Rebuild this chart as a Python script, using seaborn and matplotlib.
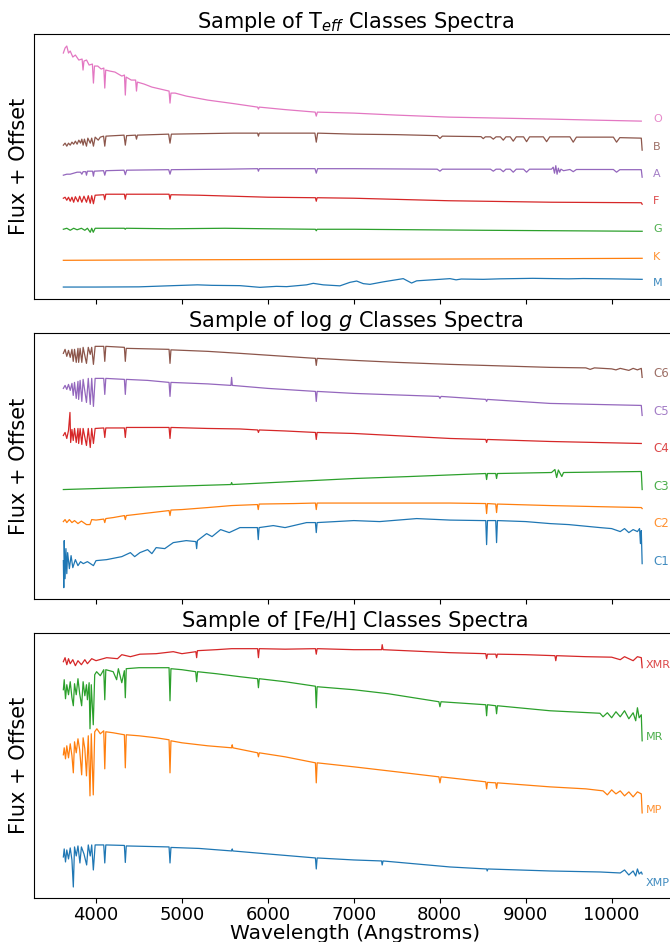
import matplotlib
matplotlib.use("Agg")
import matplotlib.pyplot as plt
import seaborn as sns
from matplotlib.ticker import MultipleLocator

# ---- spectra: (wavelength in Angstrom, flux + offset) ----

# Teff panel
teff_M = [(3620, 1.23), (4000, 1.23), (4500, 1.25), (4900, 1.37), (5180, 1.45), (5350, 1.4),
          (5675, 1.37), (5907, 1.2), (6100, 1.3), (6218, 1.27), (6450, 1.45), (6528, 1.6),
          (6644, 1.45), (6838, 1.35), (6955, 1.7), (7033, 1.83), (7110, 1.57), (7188, 1.5),
          (7343, 1.75), (7575, 2.07), (7672, 1.63), (7731, 1.85), (8000, 2.0), (8119, 2.07),
          (8190, 1.95), (8250, 2.03), (8506, 2.0), (8700, 2.05), (9082, 2.1), (9500, 2.05),
          (9670, 2.08), (10000, 2.05), (10355, 2.0)]
teff_K = [(3620, 3.9), (5000, 3.95), (7000, 4.0), (9000, 4.05), (10355, 4.1)]
teff_G = [(3620, 7.0), (3660, 7.1), (3700, 6.9), (3740, 7.1), (3780, 6.95), (3830, 7.1),
          (3870, 6.9), (3900, 7.1), (3933, 6.7), (3950, 7.1), (3968, 6.7), (3990, 7.1),
          (4200, 7.1), (4330, 7.1), (4340, 7.0), (4350, 7.1), (4861, 7.05), (5500, 7.1),
          (6000, 7.05), (6553, 7.0), (6563, 6.85), (6573, 7.0), (7000, 7.0), (8500, 6.9),
          (10355, 6.8)]
teff_F = [(3620, 10.1), (3640, 10.2), (3660, 9.9), (3680, 10.2), (3700, 9.8), (3720, 10.2),
          (3740, 9.7), (3760, 10.25), (3790, 9.75), (3810, 10.3), (3835, 9.7), (3860, 10.3),
          (3889, 9.7), (3910, 10.35), (3933, 9.6), (3950, 10.35), (3970, 9.55), (3990, 10.4),
          (4090, 10.45), (4102, 9.95), (4114, 10.5), (4330, 10.5), (4341, 10.0), (4352, 10.5),
          (4850, 10.5), (4861, 10.0), (4872, 10.45), (5200, 10.4), (5600, 10.3), (6000, 10.2),
          (6553, 10.15), (6563, 9.8), (6573, 10.15), (7000, 10.1), (8100, 9.85), (9300, 9.7),
          (10345, 9.65), (10355, 9.5)]
teff_A = [(3620, 12.4), (3660, 12.5), (3700, 12.5), (3740, 12.6), (3780, 12.7), (3820, 12.7),
          (3835, 12.5), (3850, 12.75), (3880, 12.75), (3889, 12.4), (3900, 12.8), (3960, 12.8),
          (3970, 12.3), (3980, 12.8), (4088, 12.85), (4102, 12.4), (4116, 12.85), (4326, 12.9),
          (4341, 12.45), (4356, 12.9), (4846, 12.95), (4861, 12.5), (4876, 12.95), (5500, 13.0),
          (5880, 13.05), (5890, 12.8), (5900, 13.05), (6548, 13.05), (6563, 12.6), (6578, 13.05),
          (7000, 13.05), (7970, 13.0), (8002, 12.8), (8030, 13.0), (8590, 13.0), (8623, 12.8),
          (8655, 13.0), (8705, 13.0), (8739, 12.75), (8770, 13.0), (8820, 13.0), (8855, 12.7),
          (8890, 13.0), (8975, 13.0), (9010, 12.7), (9045, 13.0), (9300, 13.0), (9320, 13.2),
          (9335, 12.6), (9350, 13.35), (9365, 12.5), (9380, 13.1), (9395, 12.7), (9410, 13.0),
          (9440, 12.85), (9515, 12.97), (9553, 12.75), (9590, 12.97), (10020, 12.97),
          (10057, 12.7), (10095, 12.95), (10345, 12.95), (10355, 12.2)]
teff_B = [(3620, 15.4), (3640, 15.6), (3660, 15.3), (3680, 15.6), (3700, 15.4), (3720, 15.7),
          (3740, 15.5), (3760, 15.8), (3780, 15.5), (3800, 15.9), (3820, 15.6), (3835, 16.0),
          (3850, 15.4), (3865, 16.0), (3889, 15.3), (3905, 16.1), (3933, 15.6), (3950, 16.1),
          (3970, 15.3), (3990, 16.2), (4026, 15.9), (4050, 16.2), (4088, 16.3), (4102, 15.3),
          (4116, 16.3), (4326, 16.4), (4341, 15.4), (4356, 16.35), (4460, 16.4), (4471, 16.0),
          (4482, 16.4), (4845, 16.5), (4861, 15.6), (4877, 16.5), (5600, 16.6), (5880, 16.6),
          (5890, 16.3), (5900, 16.6), (6547, 16.6), (6563, 15.7), (6579, 16.6), (7000, 16.5),
          (7500, 16.45), (7970, 16.35), (8002, 16.07), (8030, 16.3), (8480, 16.25),
          (8506, 16.05), (8530, 16.23), (8590, 16.23), (8623, 16.0), (8655, 16.23),
          (8705, 16.23), (8739, 15.9), (8770, 16.23), (8820, 16.23), (8855, 15.8), (8890, 16.23),
          (8975, 16.23), (9010, 15.75), (9045, 16.23), (9205, 16.23), (9243, 15.75),
          (9280, 16.23), (9515, 16.23), (9553, 15.7), (9590, 16.2), (10020, 16.2),
          (10057, 15.7), (10095, 16.15), (10345, 16.1), (10355, 14.9)]
teff_O = [(3620, 24.6), (3640, 25.1), (3660, 25.3), (3680, 24.6), (3700, 24.8), (3730, 24.2),
          (3760, 24.4), (3800, 23.9), (3838, 24.0), (3849, 22.9), (3860, 23.8), (3890, 23.9),
          (3920, 23.4), (3958, 23.5), (3970, 21.6), (3982, 23.3), (4020, 23.3), (4060, 23.0),
          (4091, 23.1), (4102, 21.1), (4113, 22.9), (4160, 22.8), (4220, 22.7), (4300, 22.3),
          (4331, 22.4), (4341, 20.4), (4351, 22.2), (4410, 21.9), (4461, 21.9), (4471, 20.8),
          (4481, 21.7), (4560, 21.5), (4650, 21.2), (4750, 21.0), (4850, 20.8), (4861, 19.6),
          (4872, 20.6), (4920, 20.6), (5050, 20.3), (5300, 19.9), (5600, 19.55), (5880, 19.2),
          (5890, 19.0), (5900, 19.2), (6200, 18.95), (6550, 18.7), (6563, 18.3), (6576, 18.7),
          (7000, 18.6), (7500, 18.4), (8100, 18.2), (8700, 18.1), (9300, 18.0), (9800, 17.9),
          (10345, 17.8)]

# log g panel
logg_C1 = [(3620, 3.8), (3625, 1.1), (3630, 5.8), (3640, 2.0), (3650, 5.0), (3660, 2.5),
           (3670, 4.6), (3690, 3.0), (3710, 4.3), (3730, 3.1), (3760, 3.9), (3790, 3.3),
           (3820, 3.7), (3852, 3.5), (3900, 3.7), (3970, 3.3), (4000, 3.8), (4124, 3.9),
           (4300, 4.2), (4400, 4.6), (4450, 4.2), (4511, 4.6), (4600, 4.9), (4650, 4.5),
           (4700, 5.1), (4800, 5.0), (4899, 5.6), (5050, 5.8), (5162, 5.7), (5171, 5.0),
           (5180, 5.8), (5287, 6.5), (5350, 6.2), (5450, 6.9), (5550, 6.6), (5675, 7.1),
           (5878, 7.1), (5888, 5.9), (5898, 7.1), (6063, 7.3), (6200, 7.1), (6450, 7.6),
           (6553, 7.6), (6563, 6.6), (6573, 7.6), (7000, 7.8), (7300, 7.7), (7731, 8.0),
           (8119, 7.85), (8500, 7.8), (8535, 7.8), (8545, 5.4), (8555, 7.8), (8651, 7.8),
           (8661, 5.6), (8671, 7.8), (9000, 7.7), (9282, 7.5), (9500, 7.4), (9864, 7.1),
           (10000, 7.0), (10100, 6.7), (10150, 7.0), (10200, 6.6), (10250, 6.9), (10300, 6.7),
           (10325, 7.0), (10335, 5.5), (10345, 6.8), (10355, 3.5)]
logg_C2 = [(3620, 7.7), (3640, 7.9), (3660, 7.6), (3690, 7.9), (3720, 7.6), (3750, 7.8),
           (3790, 7.5), (3830, 7.75), (3889, 7.4), (3930, 7.4), (3950, 7.9), (4000, 7.85),
           (4090, 7.95), (4102, 7.6), (4114, 8.0), (4200, 8.1), (4330, 8.3), (4341, 7.9),
           (4352, 8.3), (4600, 8.55), (4850, 8.8), (4861, 8.3), (4872, 8.85), (5000, 8.9),
           (5300, 9.1), (5578, 9.3), (5878, 9.4), (5888, 8.9), (5898, 9.45), (6300, 9.5),
           (6553, 9.55), (6563, 8.9), (6573, 9.55), (7000, 9.55), (7500, 9.55), (8119, 9.55),
           (8535, 9.5), (8545, 8.5), (8555, 9.5), (8651, 9.45), (8661, 8.6), (8671, 9.45),
           (9282, 9.3), (9800, 9.2), (10345, 9.1), (10355, 9.0)]
logg_C3 = [(3620, 10.9), (5570, 11.4), (5578, 11.6), (5586, 11.4), (7000, 12.0), (7653, 12.2),
           (8535, 12.5), (8545, 11.9), (8555, 12.5), (8651, 12.5), (8661, 12.0), (8671, 12.5),
           (9300, 12.6), (9340, 12.9), (9360, 12.1), (9380, 12.85), (9420, 12.2), (9440, 12.6),
           (10345, 12.7), (10355, 10.9)]
logg_C4 = [(3620, 16.3), (3640, 16.6), (3660, 16.0), (3680, 16.8), (3697, 18.6), (3705, 15.6),
           (3720, 16.9), (3735, 15.8), (3750, 17.0), (3770, 15.6), (3790, 17.0), (3798, 15.5),
           (3815, 17.0), (3835, 15.4), (3850, 17.0), (3889, 15.3), (3910, 17.0), (3933, 15.1),
           (3950, 17.0), (3970, 15.5), (3990, 17.0), (4090, 17.05), (4102, 16.1), (4114, 17.05),
           (4330, 17.05), (4341, 16.1), (4352, 17.1), (4850, 17.1), (4861, 16.0), (4872, 17.1),
           (5300, 17.0), (5675, 16.95), (5880, 16.85), (5890, 16.6), (5900, 16.85), (6200, 16.75),
           (6553, 16.6), (6563, 15.9), (6573, 16.6), (7000, 16.5), (8119, 16.0), (8535, 15.9),
           (8545, 15.6), (8555, 15.9), (9282, 15.7), (10345, 15.5)]
logg_C5 = [(3620, 21.0), (3640, 21.3), (3660, 20.9), (3680, 21.4), (3700, 20.8), (3720, 21.5),
           (3735, 20.3), (3750, 21.6), (3770, 20.0), (3790, 21.7), (3798, 19.9), (3815, 21.8),
           (3835, 19.7), (3850, 21.9), (3889, 19.6), (3910, 22.0), (3933, 19.4), (3950, 22.0),
           (3970, 19.2), (3990, 22.0), (4090, 22.0), (4102, 20.4), (4114, 22.0), (4330, 21.9),
           (4341, 20.4), (4352, 21.9), (4600, 21.8), (4850, 21.6), (4861, 20.2), (4872, 21.6),
           (5300, 21.45), (5570, 21.3), (5578, 22.1), (5586, 21.3), (6000, 21.0), (6553, 20.7),
           (6563, 19.7), (6573, 20.7), (7000, 20.5), (7990, 20.2), (8002, 20.0), (8015, 20.2),
           (8535, 19.9), (8545, 19.7), (8555, 19.9), (9282, 19.5), (10345, 19.3), (10355, 18.3)]
logg_C6 = [(3620, 24.5), (3640, 24.9), (3660, 24.2), (3680, 24.8), (3700, 24.1), (3720, 24.9),
           (3735, 23.7), (3750, 24.9), (3770, 23.6), (3790, 25.0), (3798, 23.6), (3815, 25.0),
           (3835, 23.6), (3850, 25.1), (3889, 23.5), (3910, 25.1), (3933, 24.4), (3950, 25.1),
           (3970, 23.4), (3990, 25.2), (4090, 25.2), (4102, 23.7), (4114, 25.2), (4330, 25.1),
           (4341, 23.7), (4352, 25.0), (4600, 24.95), (4850, 24.9), (4861, 23.5), (4872, 24.85),
           (5300, 24.7), (5675, 24.5), (6200, 24.2), (6553, 24.0), (6563, 23.3), (6573, 24.0),
           (7000, 23.8), (7500, 23.6), (8119, 23.4), (8700, 23.25), (9282, 23.1), (9700, 23.05),
           (9750, 22.9), (9800, 23.05), (10000, 22.95), (10050, 22.85), (10100, 23.0),
           (10200, 22.8), (10250, 23.0), (10300, 22.85), (10345, 23.0), (10355, 22.1)]

# [Fe/H] panel
feh_XMP = [(3620, 4.1), (3630, 4.9), (3645, 3.6), (3660, 4.8), (3680, 3.9), (3700, 5.0),
           (3720, 3.8), (3736, 1.1), (3750, 5.1), (3770, 4.2), (3790, 5.2), (3813, 3.5),
           (3830, 5.1), (3860, 4.4), (3891, 3.3), (3910, 5.3), (3933, 4.2), (3950, 5.3),
           (3969, 2.8), (3990, 5.3), (4090, 5.3), (4102, 3.5), (4114, 5.3), (4330, 5.25),
           (4341, 3.55), (4352, 5.2), (4600, 5.15), (4850, 5.1), (4861, 3.5), (4872, 5.05),
           (5200, 4.95), (5578, 4.7), (5585, 4.9), (5592, 4.7), (6000, 4.4), (6553, 4.0),
           (6563, 2.9), (6573, 4.0), (7000, 3.8), (7323, 3.7), (7330, 3.3), (7340, 3.7),
           (8119, 3.1), (8545, 2.9), (8552, 2.7), (8560, 2.9), (9282, 2.7), (9864, 2.6),
           (10100, 2.5), (10150, 2.8), (10200, 2.3), (10250, 2.7), (10280, 2.2), (10300, 2.9),
           (10320, 2.4), (10345, 2.6), (10355, 2.4)]
feh_MP = [(3620, 14.3), (3630, 15.0), (3645, 13.9), (3660, 15.2), (3680, 14.0), (3700, 15.4),
          (3720, 14.2), (3736, 12.5), (3750, 15.6), (3770, 14.5), (3790, 15.9), (3810, 14.8),
          (3833, 12.3), (3850, 16.0), (3870, 14.9), (3889, 12.2), (3910, 16.2), (3930, 10.2),
          (3945, 16.4), (3968, 10.3), (3985, 16.6), (4010, 16.9), (4050, 16.4), (4090, 16.7),
          (4102, 12.9), (4114, 16.6), (4200, 16.5), (4330, 16.3), (4341, 13.0), (4352, 16.3),
          (4500, 16.2), (4700, 16.0), (4850, 15.8), (4861, 12.5), (4872, 15.7), (5000, 15.5),
          (5300, 15.2), (5578, 15.0), (5585, 15.3), (5592, 15.0), (5880, 14.5), (5890, 14.1),
          (5900, 14.5), (6200, 14.1), (6553, 13.5), (6563, 11.5), (6573, 13.5), (7000, 13.1),
          (7500, 12.6), (7990, 12.1), (8002, 11.5), (8015, 12.1), (8535, 11.6), (8545, 10.9),
          (8555, 11.55), (8651, 11.5), (8661, 10.95), (8671, 11.5), (9282, 11.1), (9700, 10.9),
          (9900, 10.7), (9950, 10.3), (10000, 10.8), (10050, 10.4), (10100, 10.7),
          (10150, 10.2), (10200, 10.6), (10250, 10.1), (10300, 10.6), (10345, 10.4),
          (10355, 8.5)]
feh_MR = [(3620, 20.8), (3630, 21.8), (3645, 19.9), (3660, 21.3), (3680, 20.3), (3700, 21.6),
          (3720, 20.0), (3736, 19.2), (3750, 21.4), (3770, 20.3), (3790, 21.9), (3810, 20.4),
          (3833, 19.2), (3850, 21.6), (3870, 20.2), (3889, 21.3), (3900, 19.8), (3920, 21.5),
          (3930, 16.9), (3945, 21.3), (3968, 17.3), (3985, 22.3), (4007, 22.6), (4050, 22.2),
          (4090, 22.8), (4102, 19.8), (4114, 22.8), (4200, 22.6), (4240, 21.8), (4260, 22.9),
          (4300, 21.5), (4330, 22.7), (4341, 20.0), (4352, 22.9), (4500, 23.0), (4700, 23.0),
          (4850, 23.0), (4861, 19.7), (4872, 22.9), (5000, 22.8), (5160, 22.6), (5171, 21.6),
          (5182, 22.6), (5400, 22.4), (5675, 22.1), (5880, 21.9), (5890, 21.0), (5900, 21.9),
          (6200, 21.6), (6553, 21.15), (6563, 19.0), (6573, 21.1), (7000, 20.8), (7400, 20.4),
          (7990, 19.6), (8002, 19.1), (8015, 19.6), (8535, 19.3), (8545, 18.2), (8555, 19.3),
          (8651, 19.2), (8661, 18.4), (8671, 19.2), (9282, 18.7), (9864, 18.45), (9900, 18.1),
          (9950, 18.5), (10000, 18.0), (10050, 18.6), (10100, 18.1), (10150, 18.7),
          (10200, 17.9), (10250, 18.5), (10280, 17.7), (10300, 19.0), (10320, 18.0),
          (10345, 18.3), (10355, 15.7)]
feh_XMR = [(3620, 23.6), (3640, 24.0), (3660, 23.3), (3680, 23.9), (3700, 23.4), (3730, 23.8),
           (3760, 23.2), (3790, 23.7), (3830, 23.3), (3870, 23.8), (3900, 23.4), (3950, 23.9),
           (4000, 23.7), (4124, 24.0), (4250, 23.9), (4300, 24.3), (4400, 24.1), (4511, 24.35),
           (4700, 24.4), (4899, 24.6), (5000, 24.4), (5162, 24.6), (5171, 24.0), (5180, 24.7),
           (5400, 24.8), (5578, 24.9), (5880, 24.9), (5890, 24.0), (5900, 24.9), (6200, 24.85),
           (6553, 24.9), (6563, 24.35), (6573, 24.9), (7000, 24.8), (7323, 24.8), (7330, 25.3),
           (7340, 24.8), (8119, 24.5), (8535, 24.4), (8545, 23.9), (8555, 24.35), (8651, 24.35),
           (8661, 24.0), (8671, 24.35), (9000, 24.3), (9340, 24.2), (9350, 23.7), (9360, 24.2),
           (9700, 24.1), (10000, 24.05), (10100, 23.8), (10150, 24.1), (10250, 23.7),
           (10300, 24.1), (10345, 24.0), (10355, 23.0)]

teff_labels = ["M", "K", "G", "F", "A", "B", "O"]
teff_label_y = [1.6, 4.2, 7.0, 9.8, 12.5, 15.2, 18.0]
logg_labels = ["C1", "C2", "C3", "C4", "C5", "C6"]
logg_label_y = [3.7, 7.5, 11.2, 15.0, 18.7, 22.5]
feh_labels = ["XMP", "MP", "MR", "XMR"]
feh_label_y = [1.5, 8.8, 16.1, 23.3]

panels = [
    (r"Sample of T$_{eff}$ Classes Spectra",
     [teff_M, teff_K, teff_G, teff_F, teff_A, teff_B, teff_O], teff_labels, teff_label_y, 10480, 8),
    (r"Sample of log $g$ Classes Spectra",
     [logg_C1, logg_C2, logg_C3, logg_C4, logg_C5, logg_C6], logg_labels, logg_label_y, 10480, 8.5),
    ("Sample of [Fe/H] Classes Spectra",
     [feh_XMP, feh_MP, feh_MR, feh_XMR], feh_labels, feh_label_y, 10400, 8),
]

colors = sns.color_palette("tab10")

fig, axes = plt.subplots(3, 1, figsize=(6.7, 9.42), dpi=100, sharex=True)
fig.subplots_adjust(left=0.0512, right=1.01, top=0.9639, bottom=0.0467, hspace=0.128)

for ax, (title, spectra, labels, label_y, label_x, lsize) in zip(axes, panels):
    for i, spec in enumerate(spectra):
        wave = [p[0] for p in spec]
        flux = [p[1] for p in spec]
        sns.lineplot(x=wave, y=flux, ax=ax, color=colors[i], lw=0.9,
                     estimator=None, sort=False, errorbar=None)
        ax.text(label_x, label_y[i], labels[i], color=colors[i], fontsize=lsize,
                va="center", ha="left", alpha=0.85)
    ax.set_title(title, fontsize=15, pad=4)
    ax.set_ylabel("Flux + Offset", fontsize=15)
    ax.set_yticks([])
    ax.set_ylim(0, 26.5)

axes[-1].set_xlim(3282, 10757)
axes[-1].xaxis.set_major_locator(MultipleLocator(1000))
axes[-1].tick_params(axis="x", labelsize=13, pad=2)
axes[-1].set_xlabel("Wavelength (Angstroms)", fontsize=14.5, labelpad=0)

fig.savefig("out.png", dpi=100)
